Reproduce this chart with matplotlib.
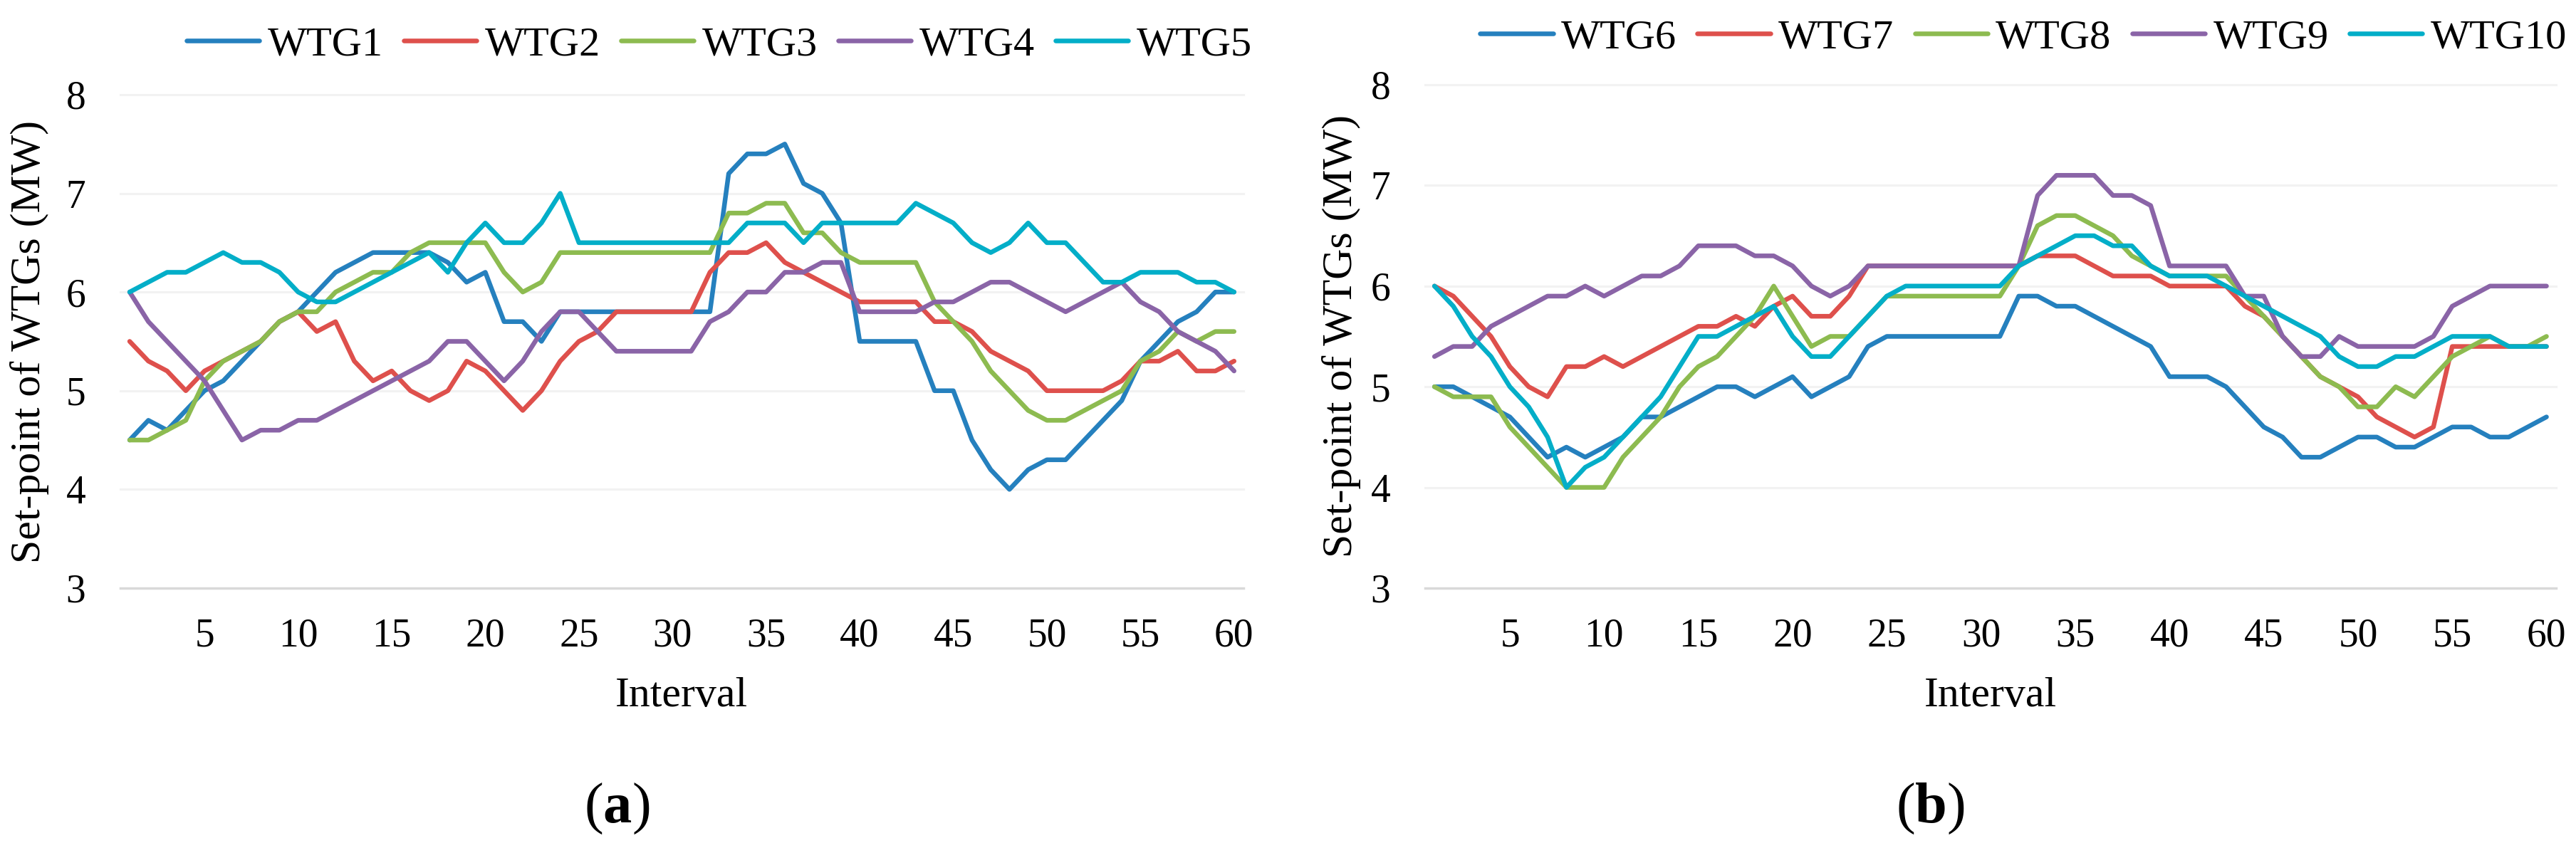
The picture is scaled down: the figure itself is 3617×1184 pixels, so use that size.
import matplotlib
matplotlib.use("Agg")
import matplotlib.pyplot as plt
import numpy as np

plt.rcParams['font.family'] = ['Liberation Serif', 'DejaVu Serif']
plt.rcParams['mathtext.fontset'] = 'custom'
plt.rcParams['mathtext.rm'] = 'Liberation Serif'
plt.rcParams['mathtext.bf'] = 'Liberation Serif:bold'

intervals = np.arange(1, 61)
xticks = list(range(5, 61, 5))
yticks = [3, 4, 5, 6, 7, 8]

names_a = ["WTG1", "WTG2", "WTG3", "WTG4", "WTG5"]
names_b = ["WTG6", "WTG7", "WTG8", "WTG9", "WTG10"]

# panel (a)
wtg1 = [4.5, 4.7, 4.6, 4.8, 5.0, 5.1, 5.3, 5.5, 5.7, 5.8, 6.0, 6.2, 6.3, 6.4, 6.4, 6.4, 6.4, 6.3, 6.1, 6.2,
        5.7, 5.7, 5.5, 5.8, 5.8, 5.8, 5.8, 5.8, 5.8, 5.8, 5.8, 5.8, 7.2, 7.4, 7.4, 7.5, 7.1, 7.0, 6.7, 5.5,
        5.5, 5.5, 5.5, 5.0, 5.0, 4.5, 4.2, 4.0, 4.2, 4.3, 4.3, 4.5, 4.7, 4.9, 5.3, 5.5, 5.7, 5.8, 6.0, 6.0]
wtg2 = [5.5, 5.3, 5.2, 5.0, 5.2, 5.3, 5.4, 5.5, 5.7, 5.8, 5.6, 5.7, 5.3, 5.1, 5.2, 5.0, 4.9, 5.0, 5.3, 5.2,
        5.0, 4.8, 5.0, 5.3, 5.5, 5.6, 5.8, 5.8, 5.8, 5.8, 5.8, 6.2, 6.4, 6.4, 6.5, 6.3, 6.2, 6.1, 6.0, 5.9,
        5.9, 5.9, 5.9, 5.7, 5.7, 5.6, 5.4, 5.3, 5.2, 5.0, 5.0, 5.0, 5.0, 5.1, 5.3, 5.3, 5.4, 5.2, 5.2, 5.3]
wtg3 = [4.5, 4.5, 4.6, 4.7, 5.1, 5.3, 5.4, 5.5, 5.7, 5.8, 5.8, 6.0, 6.1, 6.2, 6.2, 6.4, 6.5, 6.5, 6.5, 6.5,
        6.2, 6.0, 6.1, 6.4, 6.4, 6.4, 6.4, 6.4, 6.4, 6.4, 6.4, 6.4, 6.8, 6.8, 6.9, 6.9, 6.6, 6.6, 6.4, 6.3,
        6.3, 6.3, 6.3, 5.9, 5.7, 5.5, 5.2, 5.0, 4.8, 4.7, 4.7, 4.8, 4.9, 5.0, 5.3, 5.4, 5.6, 5.5, 5.6, 5.6]
wtg4 = [6.0, 5.7, 5.5, 5.3, 5.1, 4.8, 4.5, 4.6, 4.6, 4.7, 4.7, 4.8, 4.9, 5.0, 5.1, 5.2, 5.3, 5.5, 5.5, 5.3,
        5.1, 5.3, 5.6, 5.8, 5.8, 5.6, 5.4, 5.4, 5.4, 5.4, 5.4, 5.7, 5.8, 6.0, 6.0, 6.2, 6.2, 6.3, 6.3, 5.8,
        5.8, 5.8, 5.8, 5.9, 5.9, 6.0, 6.1, 6.1, 6.0, 5.9, 5.8, 5.9, 6.0, 6.1, 5.9, 5.8, 5.6, 5.5, 5.4, 5.2]
wtg5 = [6.0, 6.1, 6.2, 6.2, 6.3, 6.4, 6.3, 6.3, 6.2, 6.0, 5.9, 5.9, 6.0, 6.1, 6.2, 6.3, 6.4, 6.2, 6.5, 6.7,
        6.5, 6.5, 6.7, 7.0, 6.5, 6.5, 6.5, 6.5, 6.5, 6.5, 6.5, 6.5, 6.5, 6.7, 6.7, 6.7, 6.5, 6.7, 6.7, 6.7,
        6.7, 6.7, 6.9, 6.8, 6.7, 6.5, 6.4, 6.5, 6.7, 6.5, 6.5, 6.3, 6.1, 6.1, 6.2, 6.2, 6.2, 6.1, 6.1, 6.0]

# panel (b)
wtg6 = [5.0, 5.0, 4.9, 4.8, 4.7, 4.5, 4.3, 4.4, 4.3, 4.4, 4.5, 4.7, 4.7, 4.8, 4.9, 5.0, 5.0, 4.9, 5.0, 5.1,
        4.9, 5.0, 5.1, 5.4, 5.5, 5.5, 5.5, 5.5, 5.5, 5.5, 5.5, 5.9, 5.9, 5.8, 5.8, 5.7, 5.6, 5.5, 5.4, 5.1,
        5.1, 5.1, 5.0, 4.8, 4.6, 4.5, 4.3, 4.3, 4.4, 4.5, 4.5, 4.4, 4.4, 4.5, 4.6, 4.6, 4.5, 4.5, 4.6, 4.7]
wtg7 = [6.0, 5.9, 5.7, 5.5, 5.2, 5.0, 4.9, 5.2, 5.2, 5.3, 5.2, 5.3, 5.4, 5.5, 5.6, 5.6, 5.7, 5.6, 5.8, 5.9,
        5.7, 5.7, 5.9, 6.2, 6.2, 6.2, 6.2, 6.2, 6.2, 6.2, 6.2, 6.2, 6.3, 6.3, 6.3, 6.2, 6.1, 6.1, 6.1, 6.0,
        6.0, 6.0, 6.0, 5.8, 5.7, 5.5, 5.3, 5.1, 5.0, 4.9, 4.7, 4.6, 4.5, 4.6, 5.4, 5.4, 5.4, 5.4, 5.4, 5.4]
wtg8 = [5.0, 4.9, 4.9, 4.9, 4.6, 4.4, 4.2, 4.0, 4.0, 4.0, 4.3, 4.5, 4.7, 5.0, 5.2, 5.3, 5.5, 5.7, 6.0, 5.7,
        5.4, 5.5, 5.5, 5.7, 5.9, 5.9, 5.9, 5.9, 5.9, 5.9, 5.9, 6.2, 6.6, 6.7, 6.7, 6.6, 6.5, 6.3, 6.2, 6.1,
        6.1, 6.1, 6.1, 5.9, 5.7, 5.5, 5.3, 5.1, 5.0, 4.8, 4.8, 5.0, 4.9, 5.1, 5.3, 5.4, 5.5, 5.4, 5.4, 5.5]
wtg9 = [5.3, 5.4, 5.4, 5.6, 5.7, 5.8, 5.9, 5.9, 6.0, 5.9, 6.0, 6.1, 6.1, 6.2, 6.4, 6.4, 6.4, 6.3, 6.3, 6.2,
        6.0, 5.9, 6.0, 6.2, 6.2, 6.2, 6.2, 6.2, 6.2, 6.2, 6.2, 6.2, 6.9, 7.1, 7.1, 7.1, 6.9, 6.9, 6.8, 6.2,
        6.2, 6.2, 6.2, 5.9, 5.9, 5.5, 5.3, 5.3, 5.5, 5.4, 5.4, 5.4, 5.4, 5.5, 5.8, 5.9, 6.0, 6.0, 6.0, 6.0]
wtg10 = [6.0, 5.8, 5.5, 5.3, 5.0, 4.8, 4.5, 4.0, 4.2, 4.3, 4.5, 4.7, 4.9, 5.2, 5.5, 5.5, 5.6, 5.7, 5.8, 5.5,
         5.3, 5.3, 5.5, 5.7, 5.9, 6.0, 6.0, 6.0, 6.0, 6.0, 6.0, 6.2, 6.3, 6.4, 6.5, 6.5, 6.4, 6.4, 6.2, 6.1,
         6.1, 6.1, 6.0, 5.9, 5.8, 5.7, 5.6, 5.5, 5.3, 5.2, 5.2, 5.3, 5.3, 5.4, 5.5, 5.5, 5.5, 5.4, 5.4, 5.4]

colors = ["#2580BE", "#DE504C", "#8DBB50", "#8A64A7", "#03AEC8"]

fig = plt.figure(figsize=(36.17, 11.84), dpi=100)
ax1 = fig.add_axes([0.0467, 0.3024, 0.4360, 0.5853])
ax2 = fig.add_axes([0.5532, 0.3024, 0.4390, 0.5971])


def draw(ax, series, names, legend_xy):
    for y in range(4, 9):
        ax.axhline(y, color="#F2F2F2", lw=2.2, zorder=0, clip_on=False)
    for vals, name, c in zip(series, names, colors):
        ax.plot(intervals, vals, color=c, lw=4.7, label=name,
                solid_joinstyle='round', solid_capstyle='round')
    ax.set_xlim(0.5, 60.5)
    ax.set_ylim(3, 8)
    ax.set_xticks(xticks)
    ax.set_yticks(yticks)
    ax.tick_params(length=0, labelsize=40)
    ax.tick_params(axis='x', pad=30)
    ax.tick_params(axis='y', pad=35)
    for s in ['top', 'right', 'left']:
        ax.spines[s].set_visible(False)
    ax.spines['bottom'].set_color('#D9D9D9')
    ax.spines['bottom'].set_linewidth(2.5)
    h, l = ax.get_legend_handles_labels()
    fig.legend(h, l, loc='center', bbox_to_anchor=legend_xy, ncol=5, frameon=False,
               fontsize=42, handlelength=1.75, handletextpad=0.2, columnspacing=0.5)


draw(ax1, [wtg1, wtg2, wtg3, wtg4, wtg5], names_a, (0.2792, 0.9468))
draw(ax2, [wtg6, wtg7, wtg8, wtg9, wtg10], names_b, (0.7855, 0.9552))

fig.text(42 / 3617, 0.595, "Set-point of WTGs (MW)", rotation=90, fontsize=43, ha='center', va='center')
fig.text(1883 / 3617, 0.601, "Set-point of WTGs (MW)", rotation=90, fontsize=43, ha='center', va='center')
fig.text(0.2647, 0.1622, "Interval", fontsize=43, ha='center', va='baseline')
fig.text(0.7728, 0.1622, "Interval", fontsize=43, ha='center', va='baseline')
fig.text(0.2394, 0.0245, r"($\mathbf{a}$)", fontsize=58, ha='center', va='baseline')
fig.text(0.7493, 0.0245, r"($\mathbf{b}$)", fontsize=58, ha='center', va='baseline')

fig.savefig("out.png", dpi=100)
